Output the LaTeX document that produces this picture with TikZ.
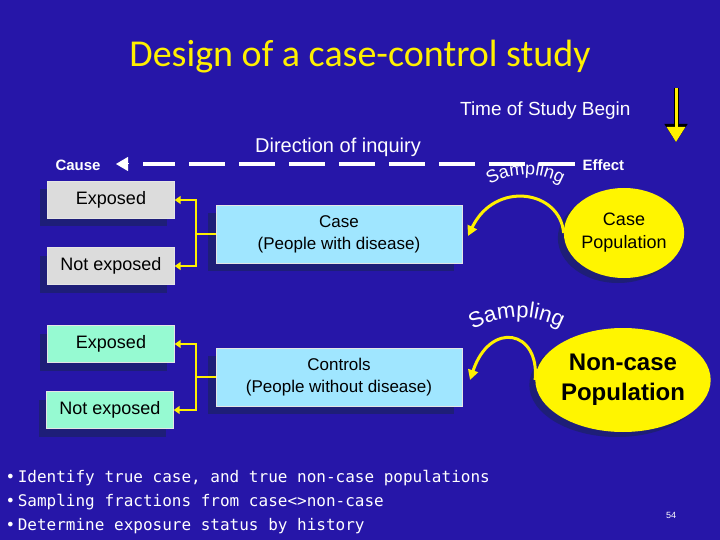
\documentclass[tikz,border=0pt]{standalone}
\usepackage{fontspec}
\setmainfont{Liberation Sans}
\newfontfamily\titlefont{Carlito}
\newfontfamily\notefont{DejaVu Sans Mono}
\usetikzlibrary{positioning, arrows.meta, decorations.text, shadows, shapes.geometric}
\definecolor{SlideBlue}{RGB}{38, 22, 168}
\definecolor{ShadeBlue}{RGB}{30, 30, 120}
\definecolor{TitleYellow}{RGB}{255, 240, 0}
\definecolor{BoxGrey}{RGB}{220, 220, 220}
\definecolor{BoxGreen}{RGB}{150, 250, 210}
\definecolor{BoxCyan}{RGB}{160, 230, 255}
\definecolor{PopYellow}{RGB}{255, 245, 0}

\begin{document}
\begin{tikzpicture}[x=1pt, y=-1pt,
        box/.style={draw=white!80!gray, thin, minimum height=37pt, minimum width=127pt, inner sep=1pt, font=\fontsize{18}{20}\selectfont, drop shadow={shadow xshift=-8pt, shadow yshift=-8pt, fill=ShadeBlue, opacity=1}},
        group/.style={box, fill=BoxCyan, minimum height=58pt, minimum width=246pt, font=\fontsize{17}{22}\selectfont, align=center},
        pop/.style={ellipse, fill=PopYellow, inner sep=0pt, align=center, drop shadow={shadow xshift=-6pt, shadow yshift=-5pt, fill=ShadeBlue, opacity=1}},
        link/.style={draw=TitleYellow, line width=2.5pt, -{Triangle[length=6pt, width=8pt]}},
        sample/.style={draw=TitleYellow, line width=3pt, -{Triangle[length=10pt, width=10pt]}},
        bullet/.style={anchor=west, white, font=\notefont\fontsize{16}{18}\selectfont}
    ]
    
    \fill[SlideBlue] (0,0) rectangle (720,540);
    
    \node[TitleYellow, font=\titlefont\fontsize{38}{42}\selectfont] (title) at (360,57) {Design of a case-control study};
    
    % time line
    \node[white, font=\fontsize{19}{21}\selectfont, anchor=east] (time) at (634,111) {Time of Study Begin};
    \coordinate (tt) at (676,88);
    \coordinate (tb) at (676,142);
    \draw[black, line width=5pt, -{Triangle[length=18pt, width=22pt]}] (tt) -- (tb);
    \draw[TitleYellow, line width=3pt, -{Triangle[length=15pt, width=18pt]}] (tt) -- (tb);
    
    % direction of inquiry
    \node[white, font=\fontsize{20}{22}\selectfont] (dir) at (338,147) {Direction of inquiry};
    \node[white, font=\bfseries\fontsize{15}{17}\selectfont, anchor=west] (cause) at (52,165) {Cause};
    \node[white, font=\bfseries\fontsize{15}{17}\selectfont, anchor=west] (effect) at (579,165) {Effect};
    \coordinate (dl) at (116,164);
    \coordinate (dr) at (575,164);
    \draw[white, line width=4.5pt, dash pattern=on 36pt off 14pt] (dr) -- ([xshift=27pt]dl);
    \draw[white, line width=1pt, -{Triangle[length=12pt, width=14pt]}] ([xshift=12pt]dl) -- (dl);
    
    % case branch
    \node[box, fill=BoxGrey] (exp1) at (111,200) {Exposed};
    \node[box, fill=BoxGrey] (nexp1) at (111,266) {Not exposed};
    \node[group] (case) at (339,234) {Case\\(People with disease)};
    \node[pop, minimum width=113pt, minimum height=90pt, font=\fontsize{18}{23}\selectfont] (cpop) at (624,233) {Case\\Population};
    
    % control branch
    \node[box, fill=BoxGreen] (exp2) at (111,344) {Exposed};
    \node[box, fill=BoxGreen] (nexp2) at (110,410) {Not exposed};
    \node[group] (ctrl) at (339,377) {Controls\\(People without disease)};
    \node[pop, minimum width=145pt, minimum height=104pt, font=\bfseries\fontsize{24}{30}\selectfont] (npop) at (623,380) {Non-case\\Population};
    
    % brackets
    \coordinate (j1) at (196,234);
    \draw[TitleYellow, line width=2.5pt] (case.west) -- (j1);
    \draw[link] (j1) |- (exp1.east);
    \draw[link] (j1) |- (nexp1.east);
    \coordinate (j2) at (196,377);
    \draw[TitleYellow, line width=2.5pt] (ctrl.west) -- (j2);
    \draw[link] (j2) |- (exp2.east);
    \draw[link] (j2) |- (nexp2.east);
    
    % sampling
    \draw[sample] (cpop.west) .. controls (560,190) and (495,180) .. (468,236);
    \draw[sample] (npop.west) .. controls (540,330) and (490,320) .. (470,380);
    \path[decorate, decoration={text along path, text align=center, text={|\fontsize{18}{20}\selectfont\color{white}|Sampling}}] (476,196) .. controls (505,168) and (545,168) .. (576,194);
    \path[decorate, decoration={text along path, text align=center, text={|\fontsize{22}{24}\selectfont\color{white}|Sampling}}] (458,340) .. controls (495,310) and (540,310) .. (576,338);
    
    % notes
    \node[bullet] (b1) at (2,478) {•\,Identify true case, and true non-case populations};
    \node[bullet] (b2) at (2,502) {•\,Sampling fractions from case<>non-case};
    \node[bullet] (b3) at (2,526) {•\,Determine exposure status by history};
    \node[white, font=\fontsize{9}{11}\selectfont] (page) at (671,515) {54};
    
\end{tikzpicture}
\end{document}
